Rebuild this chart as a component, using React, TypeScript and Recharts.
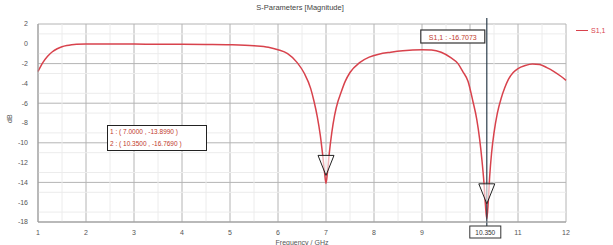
import React from 'react'
import {
  LineChart,
  Line,
  XAxis,
  YAxis,
  CartesianGrid,
  ReferenceLine,
  ReferenceDot
} from 'recharts'

// frequency in GHz and |S11| in dB
const freqs = [
  1.0, 1.1, 1.2, 1.3, 1.4, 1.5, 1.6, 1.7, 1.8, 2.0, 2.5, 3.0, 3.5, 4.0, 4.5, 5.0, 5.5, 5.8, 6.0, 6.2,
  6.4, 6.55, 6.68, 6.75, 6.82, 6.88, 6.93, 6.97, 7.0, 7.03, 7.07, 7.12, 7.18, 7.25, 7.3, 7.4, 7.5, 7.7,
  7.9, 8.1, 8.35, 8.6, 9.0, 9.2, 9.4, 9.6, 9.75, 9.85, 9.96, 10.06, 10.14, 10.2, 10.25, 10.29, 10.32,
  10.35, 10.38, 10.41, 10.45, 10.5, 10.57, 10.65, 10.72, 10.8, 10.9, 11.0, 11.15, 11.3, 11.45, 11.6,
  11.75, 11.9, 12.0
]
const s11 = [
  -2.8, -1.9, -1.25, -0.8, -0.5, -0.3, -0.18, -0.1, -0.05, -0.02, -0.02, -0.03, -0.04, -0.05, -0.07,
  -0.1, -0.2, -0.35, -0.6, -1.0, -1.9, -3.0, -4.5, -5.8, -7.4, -9.2, -11.2, -13.0, -14.1, -13.0,
  -11.0, -9.0, -7.2, -5.8, -5.1, -3.8, -2.9, -1.9, -1.35, -1.05, -0.85, -0.7, -0.6, -0.62, -0.85,
  -1.4, -2.0, -2.8, -3.8, -5.8, -7.6, -9.6, -11.8, -14.0, -16.2, -17.7, -16.0, -13.4, -11.0, -9.0,
  -7.0, -5.5, -4.5, -3.6, -2.9, -2.5, -2.2, -2.05, -2.1, -2.4, -2.8, -3.3, -3.7
]

const xTicks = [1, 2, 3, 4, 5, 6, 7, 8, 9, 10, 11, 12]
const yTicks = [2, 0, -2, -4, -6, -8, -10, -12, -14, -16, -18]
const xMinor = [1.5, 2.5, 3.5, 4.5, 5.5, 6.5, 7.5, 8.5, 9.5, 10.5, 11.5]
const yMinor = [1, -1, -3, -5, -7, -9, -11, -13, -15, -17]

const markerFreqs = [7.0, 10.35]
const markerVals = [-13.899, -16.769]
const markerNames = ['1', '2']
const cursorFreq = 10.35
const cursorText = 'S1,1 : -16.7073'

const data = freqs.map((f, i) => ({ f, s11: s11[i] }))

const RED = '#d8424c'

const Triangle = (props: any) => {
  const { cx, cy } = props
  if (cx == null || cy == null) return null
  const tip = cy - 6
  const top = cy - 26
  return (
    <polygon
      points={`${cx - 8},${top} ${cx + 8},${top} ${cx},${tip}`}
      fill="#ffffff"
      fillOpacity={0.6}
      stroke="#222"
      strokeWidth={1}
    />
  )
}

const CursorLabel = (props: any) => {
  const { viewBox } = props
  if (!viewBox) return null
  const x = viewBox.x
  const top = viewBox.y
  const bottom = viewBox.y + viewBox.height
  return (
    <g>
      <line x1={x} y1={top - 6} x2={x} y2={top} stroke="#2c3e4c" strokeWidth={1.2} />
      <line x1={x} y1={bottom} x2={x} y2={bottom + 5} stroke="#2c3e4c" strokeWidth={1.2} />
      <rect x={x - 66} y={top + 6} width={64} height={13} fill="#fff" stroke="#333" strokeWidth={1.2} />
      <text x={x - 34} y={top + 15.5} textAnchor="middle" fontSize={7} fill="#c0392b">
        {cursorText}
      </text>
      <rect x={x - 17} y={bottom + 4} width={31} height={12} fill="#fff" stroke="#333" strokeWidth={1} />
      <text x={x - 1.5} y={bottom + 12.5} textAnchor="middle" fontSize={6.5} fill="#333">
        {cursorFreq.toFixed(3)}
      </text>
    </g>
  )
}

// the cursor's value box covers the tick label next to it
const xTickText = (v: number) => (Math.abs(v - cursorFreq) < 0.5 ? '' : String(v))

export default function App() {
  return (
    <div style={{ position: 'absolute', left: 0, top: 0, width: 613, height: 245, background: '#fff', fontFamily: 'Arial, "Liberation Sans", sans-serif' }}>
      <div style={{ position: 'absolute', left: 0, top: 3, width: 600, textAlign: 'center', fontSize: 7.5, color: '#444' }}>
        S-Parameters [Magnitude]
      </div>
      <LineChart
        width={613}
        height={245}
        data={data}
        margin={{ top: 24, right: 47, left: 8, bottom: 0 }}
      >
        <CartesianGrid stroke="#b4b4b4" strokeWidth={1} />
        {xMinor.map((v) => (
          <ReferenceLine key={`xm${v}`} x={v} stroke="#ececec" strokeWidth={1} />
        ))}
        {yMinor.map((v) => (
          <ReferenceLine key={`ym${v}`} y={v} stroke="#ececec" strokeWidth={1} />
        ))}
        <XAxis
          dataKey="f"
          type="number"
          domain={[1, 12]}
          ticks={xTicks}
          tickFormatter={xTickText}
          tickLine={false}
          axisLine={{ stroke: '#999' }}
          tick={{ fontSize: 7, fill: '#555' }}
          height={23}
          tickMargin={2}
          label={{ value: 'Frequency / GHz', position: 'insideBottom', offset: 0, fontSize: 7, fill: '#555' }}
        />
        <YAxis
          type="number"
          domain={[-18, 2]}
          ticks={yTicks}
          tickLine={false}
          axisLine={{ stroke: '#999' }}
          tick={{ fontSize: 7, fill: '#555' }}
          width={30}
          tickMargin={4}
          label={{ value: 'dB', angle: -90, position: 'insideLeft', offset: 2, fontSize: 7, fill: '#555' }}
        />
        <Line
          type="monotone"
          dataKey="s11"
          stroke={RED}
          strokeWidth={1.5}
          dot={false}
          isAnimationActive={false}
        />
        <ReferenceLine x={cursorFreq} stroke="#2c3e4c" strokeWidth={1.2} label={<CursorLabel />} />
        {markerFreqs.map((f, i) => (
          <ReferenceDot key={`mk${i}`} x={f} y={markerVals[i]} r={8} shape={<Triangle />} />
        ))}
      </LineChart>
      <div
        style={{
          position: 'absolute',
          left: 107,
          top: 125,
          width: 96,
          border: '1px solid #222',
          background: '#fff',
          fontSize: 6.5,
          color: '#c0392b',
          lineHeight: '12px',
          paddingLeft: 2
        }}
      >
        {markerNames.map((n, i) => (
          <div key={n}>
            {n} : ( {markerFreqs[i].toFixed(4)} , {markerVals[i].toFixed(4)} )
          </div>
        ))}
      </div>
      <div style={{ position: 'absolute', left: 576, top: 27, fontSize: 7, color: RED, display: 'flex', alignItems: 'center' }}>
        <span style={{ display: 'inline-block', width: 12, height: 0, borderTop: `1.5px solid ${RED}`, marginRight: 3 }} />
        S1,1
      </div>
    </div>
  )
}
